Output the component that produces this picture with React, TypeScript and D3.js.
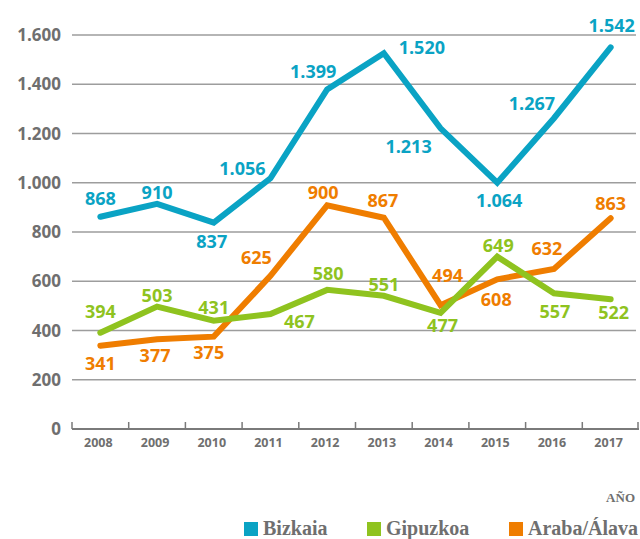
import React from 'react';
import * as d3 from 'd3';

// years on the x axis
const years = ['2008', '2009', '2010', '2011', '2012', '2013', '2014', '2015', '2016', '2017'];

// line values as drawn in the picture
const bizkaia = [862, 914, 838, 1018, 1379, 1526, 1221, 1000, 1262, 1550];
const gipuzkoa = [391, 497, 440, 467, 565, 541, 472, 700, 551, 527];
const araba = [338, 364, 375, 622, 908, 858, 503, 608, 650, 856];

// printed value labels
const bizkaiaLabels = [868, 910, 837, 1056, 1399, 1520, 1213, 1064, 1267, 1542];
const gipuzkoaLabels = [394, 503, 431, 467, 580, 551, 477, 649, 557, 522];
const arabaLabels = [341, 377, 375, 625, 900, 867, 494, 608, 632, 863];

const yTicks = [0, 200, 400, 600, 800, 1000, 1200, 1400, 1600];

// where each label sits relative to its point [dx, dy to baseline]
const bizkaiaOffsets = [[0, -12], [0, -5], [-2, 25], [-28, -3], [-14, -11], [38, 1], [-32, 25], [2, 24], [-22, -8], [1, -15]];
const gipuzkoaOffsets = [[0, -15], [0, -5], [0, -7], [29, 14], [1, -10], [0, -5], [2, 19], [1, -5], [1, 25], [3, 20]];
const arabaOffsets = [[0, 24], [-2, 23], [-5, 22], [-14, -12], [-4, -6], [-1, -11], [7, -23], [-1, 27], [-7, -14], [0, -8]];

const BLUE = '#0aa3c4';
const GREEN = '#8fc31f';
const ORANGE = '#ef7d00';
const GRAY = '#6f6f6f';

const series = [
  { name: 'Bizkaia', values: bizkaia, labels: bizkaiaLabels, offsets: bizkaiaOffsets, color: BLUE },
  { name: 'Araba/Álava', values: araba, labels: arabaLabels, offsets: arabaOffsets, color: ORANGE },
  { name: 'Gipuzkoa', values: gipuzkoa, labels: gipuzkoaLabels, offsets: gipuzkoaOffsets, color: GREEN },
];

const legend = [
  { name: 'Bizkaia', color: BLUE, x: 244 },
  { name: 'Gipuzkoa', color: GREEN, x: 367 },
  { name: 'Araba/Álava', color: ORANGE, x: 509 },
];

const fmt = d3.formatLocale({ decimal: ',', thousands: '.', grouping: [3], currency: ['', ''] }).format(',d');

const App = () => {
  const width = 640;
  const height = 539;
  const left = 72;
  const right = 639;

  const x = d3.scaleBand().domain(years).range([left, right]);
  const y = d3.scaleLinear().domain([0, 1600]).range([429, 35]);
  const cx = (yr) => (x(yr) || 0) + x.bandwidth() / 2;

  const line = d3.line<number>()
    .x((_, i) => cx(years[i]))
    .y(d => y(d));

  const sans = '"Open Sans", "DejaVu Sans", sans-serif';
  const serif = '"Liberation Serif", "DejaVu Serif", serif';

  return (
    <svg width={width} height={height} style={{ position: 'absolute', left: 0, top: 0, background: '#fff' }}>
      {yTicks.filter(t => t > 0).map(t => (
        <line key={t} x1={left} x2={636} y1={y(t)} y2={y(t)} stroke="#9d9d9d" strokeWidth={1.3} />
      ))}
      {yTicks.map(t => (
        <text key={'l' + t} x={61} y={y(t) + 6} textAnchor="end" fontFamily={sans} fontWeight={700}
          fontSize={17} fill={GRAY}>{fmt(t)}</text>
      ))}
      <line x1={left} x2={right} y1={y(0)} y2={y(0)} stroke="#7a7a7a" strokeWidth={2} />
      {years.map(yr => (
        <line key={'t' + yr} x1={x(yr)} x2={x(yr)} y1={y(0)} y2={y(0) - 7} stroke="#7a7a7a" strokeWidth={1.5} />
      ))}
      <line x1={right - 1} x2={right - 1} y1={y(0)} y2={y(0) - 7} stroke="#7a7a7a" strokeWidth={1.5} />
      {years.map(yr => (
        <text key={'x' + yr} x={cx(yr) - 2} y={447} textAnchor="middle" fontFamily={sans} fontWeight={700}
          fontSize={12.5} fill={GRAY}>{yr}</text>
      ))}

      {series.map(s => (
        <path key={s.name} d={line(s.values) || ''} fill="none" stroke={s.color} strokeWidth={6}
          strokeLinejoin="miter" strokeLinecap="round" />
      ))}

      {series.map(s => s.labels.map((v, i) => (
        <text key={s.name + i} x={cx(years[i]) + s.offsets[i][0]} y={y(s.values[i]) + s.offsets[i][1]}
          textAnchor="middle" fontFamily={sans} fontWeight={700} fontSize={18} fill={s.color}>{fmt(v)}</text>
      )))}

      <text x={635} y={502} textAnchor="end" fontFamily={serif} fontWeight={700} fontSize={13} fill={GRAY}>AÑO</text>
      {legend.map(l => (
        <g key={l.name}>
          <rect x={l.x} y={522} width={14} height={14} fill={l.color} />
          <text x={l.x + 19} y={535} fontFamily={serif} fontWeight={700} fontSize={20} fill={GRAY}>{l.name}</text>
        </g>
      ))}
    </svg>
  );
};

export default App;
